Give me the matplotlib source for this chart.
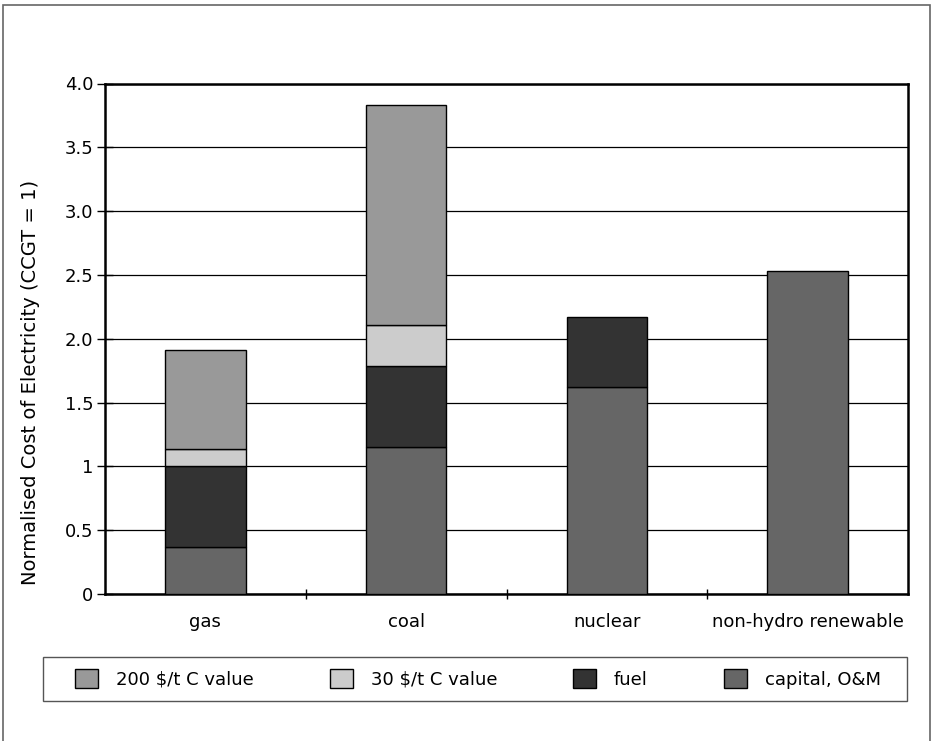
import matplotlib.pyplot as plt
from matplotlib.patches import Rectangle
import numpy as np

plt.rcParams['font.family'] = ['DejaVu Sans']

categories = ['gas', 'coal', 'nuclear', 'non-hydro renewable']
capital_om = [0.37, 1.15, 1.62, 2.53]
fuel = [0.63, 0.64, 0.55, 0.0]
c30 = [0.14, 0.32, 0.0, 0.0]
c200 = [0.77, 1.72, 0.0, 0.0]

series = ['200 $/t C value', '30 $/t C value', 'fuel', 'capital, O&M']
colors = ['#999999', '#cccccc', '#333333', '#666666']

ytick_vals = [0, 0.5, 1, 1.5, 2.0, 2.5, 3.0, 3.5, 4.0]
ytick_labels = ['0', '0.5', '1', '1.5', '2.0', '2.5', '3.0', '3.5', '4.0']

fig = plt.figure(figsize=(9.32, 7.41), dpi=100)
ax = fig.add_axes([105 / 932, 1 - 594 / 741, 803 / 932, 510.5 / 741])

x = np.arange(len(categories))
w = 0.4
bottom = np.zeros(len(categories))
stack = [(capital_om, 3), (fuel, 2), (c30, 1), (c200, 0)]
handles = {}
for vals, ci in stack:
    vals = np.array(vals)
    mask = vals > 0
    b = ax.bar(x[mask], vals[mask], w, bottom=bottom[mask], color=colors[ci],
               edgecolor='black', linewidth=1, zorder=3, label=series[ci])
    handles[ci] = b
    bottom += vals

ax.set_xlim(-0.5, 3.5)
ax.set_ylim(0, 4.0)
ax.set_yticks(ytick_vals)
ax.set_yticklabels(ytick_labels)
ax.set_xticks(x)
ax.set_xticklabels(categories)
ax.set_xticks([0.5, 1.5, 2.5], minor=True)
ax.tick_params(axis='x', which='major', length=0, pad=14, labelsize=13)
ax.tick_params(axis='x', which='minor', direction='inout', length=7, width=1)
ax.tick_params(axis='y', direction='inout', length=11, width=1, pad=3, labelsize=13)
ax.yaxis.grid(True, color='black', linewidth=0.9, zorder=0)
ax.set_axisbelow(True)
for s in ax.spines.values():
    s.set_linewidth(1.8)
    s.set_color('black')

fig.text(31 / 932, 1 - 382 / 741, 'Normalised Cost of Electricity (CCGT = 1)',
         rotation=90, ha='center', va='center', fontsize=14)

# legend content without frame, frame drawn separately
leg = fig.legend([handles[i] for i in range(4)], series, ncol=4,
                 loc='center', mode='expand',
                 bbox_to_anchor=(75 / 932, 1 - 701 / 741, 806 / 932, 44 / 741),
                 bbox_transform=fig.transFigure, borderaxespad=0,
                 fontsize=13, handlelength=1.26, handleheight=1.26,
                 handletextpad=1.0, frameon=False, borderpad=0)

fig.patches.append(Rectangle((43 / 932, 1 - 701 / 741), 864 / 932, 44 / 741,
                             transform=fig.transFigure, fill=False,
                             edgecolor='#555555', linewidth=1))

fig.patches.append(Rectangle((3 / 932, -0.05), 927 / 932, 1.05 - 5 / 741,
                             transform=fig.transFigure, fill=False,
                             edgecolor='#666666', linewidth=1.2))

fig.savefig('out.png', dpi=100)
